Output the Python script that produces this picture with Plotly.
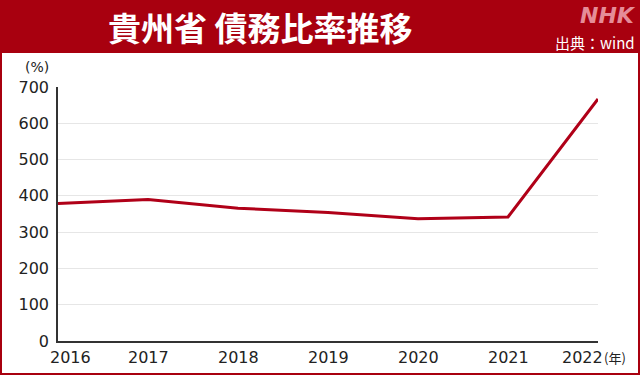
import plotly.graph_objects as go

years = [2016, 2017, 2018, 2019, 2020, 2021, 2022]
debt_ratio = [379, 390, 366, 354, 337, 342, 667]
y_ticks = [0, 100, 200, 300, 400, 500, 600, 700]
x_labels = ["2016", "2017", "2018", "2019", "2020", "2021", "2022"]

RED = "#A8000F"
LINE = "#B00018"
FONT = "Noto Sans CJK JP"
NUMFONT = "DejaVu Sans"

W, H = 640, 375
L, R, T, B = 58, 42, 87, 34
PW, PH = W - L - R, H - T - B

def px(x):
    return (x - L) / PW

def py(y):
    return (H - B - y) / PH

fig = go.Figure()
fig.add_trace(go.Scatter(
    x=years, y=debt_ratio, mode="lines",
    line=dict(color=LINE, width=3), hoverinfo="skip", showlegend=False,
))

shapes = [
    dict(type="rect", xref="paper", yref="paper", layer="below",
         x0=px(2), x1=px(638), y0=py(373), y1=py(53),
         fillcolor="white", line=dict(width=0)),
]

annotations = [
    dict(text="<b>貴州省 債務比率推移</b>", xref="paper", yref="paper",
         x=px(260), y=py(27), xanchor="center", yanchor="middle", showarrow=False,
         font=dict(family=FONT, size=33, color="white")),
    dict(text="<b><i>NHK</i></b>", xref="paper", yref="paper",
         x=px(638), y=py(15), xanchor="right", yanchor="middle", showarrow=False,
         font=dict(family="DejaVu Sans", size=22, color="#E58C98")),
    dict(text="出典：wind", xref="paper", yref="paper",
         x=px(637), y=py(42), xanchor="right", yanchor="middle", showarrow=False,
         font=dict(family=FONT, size=15, color="white")),
    dict(text="(%)", xref="paper", yref="paper",
         x=px(37), y=py(67), xanchor="center", yanchor="middle", showarrow=False,
         font=dict(family=NUMFONT, size=14, color="#222")),
    dict(text="(年)", xref="paper", yref="paper",
         x=px(602), y=py(357), xanchor="left", yanchor="middle", showarrow=False,
         font=dict(family=FONT, size=13, color="#222")),
]
for i, (yr, lab) in enumerate(zip(years, x_labels)):
    shift = 12 if i == 0 else (-16 if i == len(years) - 1 else 0)
    annotations.append(dict(
        text=lab, xref="x", yref="paper", x=yr, y=py(357),
        xanchor="center", yanchor="middle", xshift=shift, showarrow=False,
        font=dict(family=NUMFONT, size=16, color="#222")))

fig.update_layout(
    width=W, height=H,
    margin=dict(l=L, r=R, t=T, b=B),
    paper_bgcolor=RED, plot_bgcolor="white",
    shapes=shapes, annotations=annotations,
    xaxis=dict(range=[years[0], years[-1]], showgrid=False, zeroline=False,
               showticklabels=False, showline=True, linecolor="#333", linewidth=1.5,
               ticks=""),
    yaxis=dict(range=[0, 700], tickvals=y_ticks, showgrid=True, gridcolor="#E6E6E6",
               gridwidth=1, zeroline=False, showline=True, linecolor="#333",
               linewidth=1.5, ticks="", ticklabelstandoff=4,
               tickfont=dict(family=NUMFONT, size=16, color="#222")),
    font=dict(family=FONT),
)

fig.write_html("out.html", config={"displayModeBar": False})
with open("out.html", encoding="utf-8") as f:
    html = f.read()
html = html.replace("<head>", "<head><style>html,body{margin:0;padding:0;overflow:hidden;}</style>", 1)
with open("out.html", "w", encoding="utf-8") as f:
    f.write(html)
